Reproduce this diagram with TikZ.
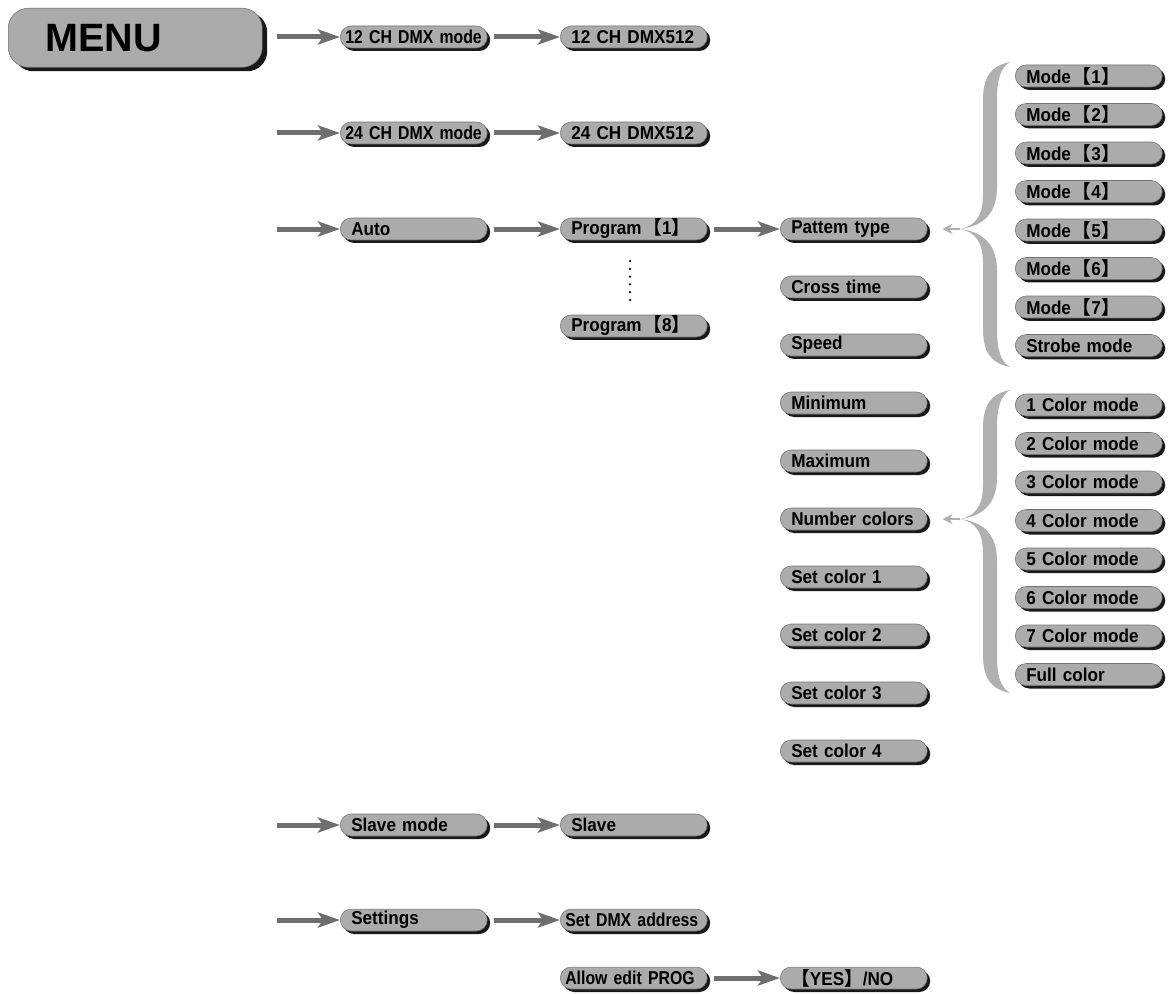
\documentclass[tikz,border=0pt]{standalone}
\usepackage{fontspec}
\setmainfont{Liberation Sans}
\newfontfamily\boxfont{Liberation Sans}[FakeStretch=0.92]
\newfontfamily\narrowfont{Liberation Sans}[FakeStretch=0.85]
\newfontfamily\cjk{Noto Sans CJK SC}
\usepackage{tikz}
\usetikzlibrary{arrows.meta, shadows, calc}

\definecolor{boxgray}{HTML}{ABABAB}
\definecolor{arrowgray}{HTML}{6E6E6E}
\definecolor{bracegray}{HTML}{B0B0B0}

\newcommand{\lbk}{\hspace{0.1em}{\cjk 【}}
\newcommand{\rbk}{{\cjk 】}}

% curly brace: top y, cusp y, bottom y
\newcommand{\graybrace}[3]{%
  \fill[bracegray] (1010,#1) .. controls (990,#1+4) and (983,#1+16) .. (983,#1+38)
    -- (983,#2-34) .. controls (983,#2-14) and (976,#2-3) .. (960,#2)
    .. controls (976,#2+3) and (983,#2+14) .. (983,#2+34)
    -- (983,#3-38) .. controls (983,#3-16) and (990,#3-4) .. (1010,#3)
    .. controls (1000,#3-6) and (997,#3-18) .. (997,#3-38)
    -- (997,#2+42) .. controls (997,#2+16) and (984,#2+3) .. (960,#2)
    .. controls (984,#2-3) and (997,#2-16) .. (997,#2-42)
    -- (997,#1+38) .. controls (997,#1+18) and (1000,#1+6) .. (1010,#1) -- cycle;}

\tikzset{
  menuitem/.style={rectangle, rounded corners=0.22cm, fill=boxgray, draw=black!55,
    line width=0.3pt, minimum height=0.44cm, inner ysep=0pt, inner xsep=0.22cm,
    text width=2.50cm, align=left, anchor=west,
    font=\boxfont\bfseries\fontsize{10.6pt}{11pt}\selectfont,
    drop shadow={shadow xshift=0.06cm, shadow yshift=-0.06cm, fill=black!90, opacity=1}},
  tight/.style={inner xsep=0.1cm, text width=2.74cm,
    font=\narrowfont\bfseries\fontsize{10.6pt}{11pt}\selectfont},
  menutitle/.style={rectangle, rounded corners=0.4cm, fill=boxgray, draw=black!55,
    line width=0.3pt, minimum height=1.18cm, inner xsep=0.74cm, text width=3.6cm,
    align=left, anchor=north west, font=\bfseries\fontsize{22.5pt}{24pt}\selectfont,
    drop shadow={shadow xshift=0.1cm, shadow yshift=-0.08cm, fill=black!90, opacity=1}},
  arrowstep/.style={arrowgray, line width=0.1cm, -{Stealth[length=0.44cm, width=0.3cm, inset=0.1cm]}},
  bracearrow/.style={bracegray, line width=0.045cm, -{Stealth[length=0.2cm, width=0.2cm]}}
}

\begin{document}
\begin{tikzpicture}[x=0.02cm, y=-0.02cm]
    \useasboundingbox (0,0) rectangle (1172,993);

    \node[menutitle] (menu) at (8,8) {MENU};

    % first and second level
    \node[menuitem, tight] (ch12) at (340,37) {12 CH DMX mode};
    \node[menuitem] (dmx12) at (560,37) {12 CH DMX512};
    \node[menuitem, tight] (ch24) at (340,133) {24 CH DMX mode};
    \node[menuitem] (dmx24) at (560,133) {24 CH DMX512};
    \node[menuitem] (auto) at (340,229) {Auto};
    \node[menuitem] (prog1) at (560,229) {Program\lbk 1\rbk};
    \node[menuitem] (prog8) at (560,326) {Program\lbk 8\rbk};
    \node[menuitem] (slvmode) at (340,825) {Slave mode};
    \node[menuitem] (slave) at (560,825) {Slave};
    \node[menuitem] (settings) at (340,920) {Settings};
    \node[menuitem, tight] (setdmx) at (560,920) {Set DMX address};
    \node[menuitem, tight] (allow) at (560,978) {Allow edit PROG};
    \node[menuitem] (yesno) at (780,978) {{\cjk 【}YES\rbk /NO};

    % program settings
    \node[menuitem] (pattem) at (780,229) {Pattem type};
    \node[menuitem] (cross) at (780,287) {Cross time};
    \node[menuitem] (speed) at (780,345) {Speed};
    \node[menuitem] (minimum) at (780,403) {Minimum};
    \node[menuitem] (maximum) at (780,461) {Maximum};
    \node[menuitem] (numcol) at (780,519) {Number colors};
    \node[menuitem] (setc1) at (780,577) {Set color 1};
    \node[menuitem] (setc2) at (780,635) {Set color 2};
    \node[menuitem] (setc3) at (780,693) {Set color 3};
    \node[menuitem] (setc4) at (780,751) {Set color 4};

    % pattern types
    \node[menuitem] (mode1) at (1015,76) {Mode\lbk 1\rbk};
    \node[menuitem] (mode2) at (1015,114.5) {Mode\lbk 2\rbk};
    \node[menuitem] (mode3) at (1015,153) {Mode\lbk 3\rbk};
    \node[menuitem] (mode4) at (1015,191.5) {Mode\lbk 4\rbk};
    \node[menuitem] (mode5) at (1015,230) {Mode\lbk 5\rbk};
    \node[menuitem] (mode6) at (1015,268.5) {Mode\lbk 6\rbk};
    \node[menuitem] (mode7) at (1015,307) {Mode\lbk 7\rbk};
    \node[menuitem] (strobe) at (1015,345.5) {Strobe mode};

    % color counts
    \node[menuitem] (col1) at (1015,405) {1 Color mode};
    \node[menuitem] (col2) at (1015,443.5) {2 Color mode};
    \node[menuitem] (col3) at (1015,482) {3 Color mode};
    \node[menuitem] (col4) at (1015,520.5) {4 Color mode};
    \node[menuitem] (col5) at (1015,559) {5 Color mode};
    \node[menuitem] (col6) at (1015,597.5) {6 Color mode};
    \node[menuitem] (col7) at (1015,636) {7 Color mode};
    \node[menuitem] (fullcol) at (1015,674.5) {Full color};

    % arrows
    \coordinate (in24) at (277,133);
    \coordinate (inauto) at (277,229);
    \coordinate (inslave) at (277,825);
    \coordinate (inset) at (277,920);
    \draw[arrowstep] ([xshift=0.3cm]menu.east |- ch12) -- (ch12.west);
    \draw[arrowstep] (in24) -- (ch24.west);
    \draw[arrowstep] (inauto) -- (auto.west);
    \draw[arrowstep] (inslave) -- (slvmode.west);
    \draw[arrowstep] (inset) -- (settings.west);
    \draw[arrowstep] ([xshift=0.12cm]ch12.east) -- (dmx12.west);
    \draw[arrowstep] ([xshift=0.12cm]ch24.east) -- (dmx24.west);
    \draw[arrowstep] ([xshift=0.12cm]auto.east) -- (prog1.west);
    \draw[arrowstep] ([xshift=0.12cm]prog1.east) -- (pattem.west);
    \draw[arrowstep] ([xshift=0.12cm]slvmode.east) -- (slave.west);
    \draw[arrowstep] ([xshift=0.12cm]settings.east) -- (setdmx.west);
    \draw[arrowstep] ([xshift=0.12cm]allow.east) -- (yesno.west);

    % program dots
    \foreach \k in {0,...,5}
        \fill (630,261+7.8*\k) circle (0.025cm);

    % braces
    \graybrace{62}{229}{367}
    \graybrace{390}{519}{693}
    \coordinate (cuspA) at (960,229);
    \coordinate (cuspB) at (960,519);
    \draw[bracearrow] (cuspA) -- ([xshift=0.3cm]pattem.east);
    \draw[bracearrow] (cuspB) -- ([xshift=0.3cm]numcol.east);
\end{tikzpicture}
\end{document}
